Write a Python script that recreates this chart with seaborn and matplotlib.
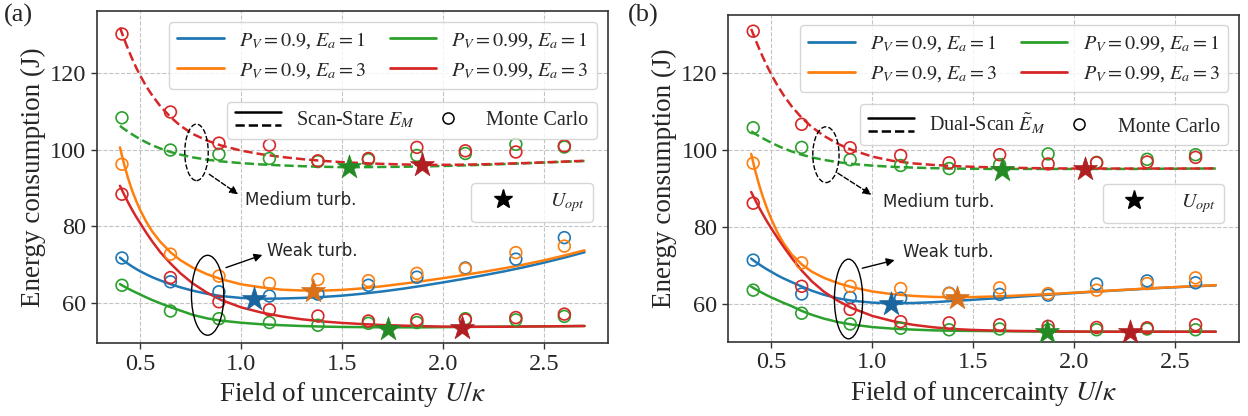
import matplotlib
matplotlib.use("Agg")
import matplotlib.pyplot as plt
import seaborn as sns
from matplotlib.lines import Line2D
from matplotlib.patches import Ellipse
from matplotlib.legend_handler import HandlerBase

# ---------------- data ----------------
curve_x = [0.40, 0.42, 0.44, 0.46, 0.48, 0.50, 0.53, 0.56, 0.60, 0.65, 0.70, 0.76, 0.83, 0.90,
           1.00, 1.10, 1.20, 1.30, 1.40, 1.50, 1.60, 1.70, 1.80, 1.90, 2.00, 2.10, 2.20,
           2.30, 2.40, 2.50, 2.60, 2.70]
mc_x = [0.41, 0.65, 0.89, 1.14, 1.38, 1.63, 1.87, 2.11, 2.36, 2.60]

# panel (a): Scan-Stare
a_blue_curve = [71.9, 71.05, 70.3, 69.6, 68.95, 68.35, 67.55, 66.8, 65.95, 65.0, 64.15, 63.3,
                62.5, 61.9, 61.4, 61.2, 61.25, 61.4, 61.65, 62.0, 62.5, 63.1, 63.8, 64.6,
                65.45, 66.35, 67.3, 68.3, 69.4, 70.6, 71.9, 73.3]
a_orange_curve = [100.6, 96.3, 92.6, 89.4, 86.7, 84.3, 81.25, 78.7, 76.0, 73.3, 71.2, 69.3,
                  67.6, 66.3, 64.95, 64.15, 63.55, 63.35, 63.3, 63.5, 63.9, 64.45, 65.1, 65.8,
                  66.55, 67.35, 68.2, 69.1, 70.1, 71.2, 72.45, 73.8]
a_green_curve = [65.0, 64.4, 63.85, 63.3, 62.8, 62.3, 61.55, 60.85, 60.0, 59.0, 58.1, 57.0,
                 56.1, 55.5, 54.95, 54.55, 54.3, 54.1, 53.95, 53.85, 53.8, 53.75, 53.75, 53.75,
                 53.8, 53.85, 53.9, 53.95, 54.0, 54.0, 54.05, 54.1]
a_red_curve = [90.6, 88.4, 86.3, 84.35, 82.55, 80.9, 78.4, 76.1, 73.3, 70.4, 67.8, 65.2,
               62.8, 60.9, 58.95, 57.6, 56.6, 55.85, 55.3, 54.9, 54.6, 54.35, 54.2, 54.05,
               53.95, 53.9, 53.9, 53.9, 53.95, 54.0, 54.05, 54.1]
a_green_dash = [106.2, 105.4, 104.7, 104.0, 103.35, 102.75, 101.9, 101.15, 100.3, 99.4, 98.7,
                98.0, 97.4, 96.95, 96.5, 96.15, 95.9, 95.7, 95.55, 95.45, 95.45, 95.5, 95.55,
                95.65, 95.75, 95.9, 96.05, 96.25, 96.45, 96.65, 96.85, 97.05]
a_red_dash = [131.8, 128.9, 126.2, 123.7, 121.4, 119.3, 116.5, 114.1, 111.3, 108.5, 106.2,
              104.1, 102.4, 101.1, 99.75, 98.8, 98.1, 97.55, 97.1, 96.75, 96.5, 96.3, 96.15,
              96.05, 96.05, 96.1, 96.2, 96.35, 96.5, 96.7, 96.9, 97.1]

a_blue_mc = [71.8, 65.6, 63.0, 61.9, 62.4, 64.7, 66.8, 69.2, 71.5, 77.1]
a_orange_mc = [96.2, 72.8, 67.1, 65.2, 66.2, 65.9, 67.8, 69.0, 73.2, 74.9]
a_green_mc = [64.7, 58.0, 56.0, 55.0, 54.3, 54.8, 55.0, 56.0, 55.7, 56.6]
a_red_mc = [88.4, 66.7, 60.4, 58.3, 56.7, 55.4, 55.7, 55.7, 56.3, 57.2]
a_green_dash_mc = [108.3, 99.9, 98.8, 97.7, 96.9, 97.4, 98.5, 99.0, 101.4, 100.7]
a_red_dash_mc = [130.1, 109.8, 101.7, 101.2, 97.1, 97.7, 100.6, 99.7, 99.4, 101.0]

a_star_x = [1.065, 1.358, 1.726, 2.095, 1.536, 1.897]
a_star_y = [61.1, 63.2, 53.4, 53.7, 95.4, 96.0]

# panel (b): Dual-Scan
b_blue_curve = [71.8, 71.0, 70.3, 69.6, 68.95, 68.35, 67.45, 66.65, 65.7, 64.55, 63.45, 62.4,
                61.45, 60.85, 60.35, 60.2, 60.25, 60.45, 60.8, 61.1, 61.45, 61.8, 62.15, 62.5,
                62.85, 63.2, 63.5, 63.8, 64.1, 64.35, 64.6, 64.85]
b_orange_curve = [99.0, 94.6, 90.8, 87.5, 84.6, 82.0, 78.6, 75.8, 72.9, 70.3, 68.4, 66.8,
                  65.4, 64.35, 63.25, 62.55, 62.1, 61.85, 61.75, 61.8, 61.95, 62.15, 62.4, 62.65,
                  62.95, 63.25, 63.55, 63.85, 64.15, 64.4, 64.65, 64.9]
b_green_curve = [64.5, 63.9, 63.3, 62.75, 62.2, 61.7, 61.0, 60.3, 59.45, 58.2, 57.2, 56.2,
                 55.3, 54.65, 54.0, 53.6, 53.35, 53.15, 53.05, 53.0, 52.95, 52.9, 52.85, 52.8,
                 52.8, 52.8, 52.8, 52.8, 52.8, 52.8, 52.8, 52.8]
b_red_curve = [89.1, 87.0, 85.0, 83.1, 81.3, 79.6, 77.2, 74.9, 72.0, 68.7, 65.9, 63.2,
               60.8, 58.9, 56.9, 55.55, 54.6, 53.95, 53.5, 53.25, 53.1, 53.0, 52.95, 52.9,
               52.85, 52.8, 52.8, 52.8, 52.8, 52.8, 52.8, 52.8]
b_green_dash = [104.9, 104.2, 103.6, 103.0, 102.45, 101.9, 101.15, 100.45, 99.65, 98.8, 98.1,
                97.45, 96.85, 96.4, 95.95, 95.65, 95.45, 95.3, 95.2, 95.15, 95.1, 95.1, 95.1,
                95.1, 95.1, 95.1, 95.1, 95.1, 95.15, 95.15, 95.2, 95.2]
b_red_dash = [131.5, 128.8, 126.3, 123.9, 121.7, 119.6, 116.8, 114.3, 111.4, 108.4, 106.0,
              103.7, 101.6, 100.0, 98.3, 97.2, 96.55, 96.15, 95.85, 95.65, 95.5, 95.4, 95.3,
              95.25, 95.2, 95.2, 95.2, 95.2, 95.2, 95.2, 95.2, 95.25]

b_blue_mc = [71.4, 62.6, 61.7, 61.5, 62.8, 62.5, 62.3, 65.2, 66.0, 65.5]
b_orange_mc = [96.6, 70.7, 64.6, 64.0, 62.7, 64.2, 62.7, 63.6, 65.3, 66.8]
b_green_mc = [63.6, 57.6, 54.8, 53.7, 53.3, 53.5, 53.3, 53.3, 53.5, 53.3]
b_red_mc = [86.2, 64.6, 58.6, 55.4, 55.1, 54.6, 54.2, 53.9, 53.8, 54.6]
b_green_dash_mc = [105.8, 100.7, 97.5, 96.0, 95.2, 96.2, 99.0, 96.8, 97.6, 98.8]
b_red_dash_mc = [130.9, 106.7, 100.6, 98.6, 96.7, 98.8, 96.4, 96.7, 96.9, 98.1]

b_star_x = [1.094, 1.42, 1.863, 2.275, 1.644, 2.055]
b_star_y = [60.1, 61.5, 52.6, 52.6, 94.9, 95.1]

series_labels = [r"$P_V=0.9$, $E_a=1$", r"$P_V=0.9$, $E_a=3$",
                 r"$P_V=0.99$, $E_a=1$", r"$P_V=0.99$, $E_a=3$"]
colors = ["#1f77b4", "#ff7f0e", "#2ca02c", "#d62728"]
star_colors = ["#1a659e", "#d9711a", "#248a24", "#b01e22", "#248a24", "#b01e22"]

# ---------------- style ----------------
sns.set_style("whitegrid", {"grid.linestyle": "--", "grid.color": "#c4c4c4",
                            "axes.edgecolor": "#333333", "xtick.bottom": True,
                            "ytick.left": True})
plt.rcParams["font.family"] = ["Liberation Serif", "DejaVu Serif"]
plt.rcParams["mathtext.fontset"] = "stix"
plt.rcParams["axes.linewidth"] = 1.2
plt.rcParams["grid.linewidth"] = 0.8


class SolidDashed:
    pass


class SolidDashedHandler(HandlerBase):
    def create_artists(self, legend, orig_handle, xdescent, ydescent,
                       width, height, fontsize, trans):
        x0, x1 = -xdescent, width - xdescent
        top = Line2D([x0, x1], [0.95 * height - ydescent] * 2, color="black",
                     lw=1.8, transform=trans)
        bot = Line2D([x0, x1], [0.05 * height - ydescent] * 2, color="black",
                     lw=1.8, ls="--", transform=trans)
        return [top, bot]


def draw_panel(ax, curves, mcs, star_x, star_y, method_label, ylim, ann):
    solid = curves[:4]
    dashed = curves[4:]
    for vals, c in zip(solid, colors):
        sns.lineplot(x=curve_x, y=vals, ax=ax, color=c, lw=1.8, legend=False)
    for vals, c in zip(dashed, [colors[2], colors[3]]):
        sns.lineplot(x=curve_x, y=vals, ax=ax, color=c, lw=1.8, ls="--", legend=False)
    mc_colors = colors + [colors[2], colors[3]]
    for vals, c in zip(mcs, mc_colors):
        sns.scatterplot(x=mc_x, y=vals, ax=ax, marker="o", s=72, facecolor="none",
                        edgecolor=c, linewidth=1.2, zorder=3, legend=False)
    for sx, sy, c in zip(star_x, star_y, star_colors):
        sns.scatterplot(x=[sx], y=[sy], ax=ax, marker="*", s=330, color=c,
                        edgecolor=c, linewidth=0.5, zorder=4, legend=False)

    ax.set_xlim(0.285, 2.815)
    ax.set_ylim(*ylim)
    ax.set_xticks([0.5, 1.0, 1.5, 2.0, 2.5])
    ax.set_yticks([60, 80, 100, 120])
    ax.tick_params(labelsize=17.5, length=4, width=1, color="#333333")
    ax.set_xlabel(r"Field of uncercainty $U/\kappa$", fontsize=19.5)
    ax.set_ylabel("Energy consumption (J)", fontsize=19.5, labelpad=3)

    # ellipses, arrows and notes
    (dcx, dcy, dw, dh), (d0, d1), dtxt, (scx, scy, sw, sh), (s0, s1), stxt = ann
    ax.add_patch(Ellipse((dcx, dcy), dw, dh, fill=False, ls="--", lw=1.0, ec="black", zorder=5))
    ax.add_patch(Ellipse((scx, scy), sw, sh, fill=False, lw=1.0, ec="black", zorder=5))
    ax.annotate("", xy=d1, xytext=d0,
                arrowprops=dict(arrowstyle="-|>", ls="--", lw=1.0, color="black",
                                mutation_scale=12, shrinkA=0, shrinkB=0))
    ax.annotate("", xy=s1, xytext=s0,
                arrowprops=dict(arrowstyle="-|>", lw=1.0, color="black",
                                mutation_scale=12, shrinkA=0, shrinkB=0))
    ax.text(dtxt[0], dtxt[1], "Medium turb.", family="DejaVu Sans", fontsize=12, va="center")
    ax.text(stxt[0], stxt[1], "Weak turb.", family="DejaVu Sans", fontsize=12, va="center")

    # legends
    h1 = [Line2D([], [], color=c, lw=2) for c in colors]
    leg1 = ax.legend(h1, series_labels, ncol=2, loc="upper right",
                     bbox_to_anchor=(0.978, 0.968), borderaxespad=0, fontsize=14.5,
                     handlelength=2.3, handletextpad=0.75, columnspacing=1.2)
    ax.add_artist(leg1)
    h2 = [SolidDashed(), Line2D([], [], marker="o", ls="none", mfc="none",
                                mec="black", ms=8, mew=1.1)]
    leg2 = ax.legend(h2, [method_label, "Monte Carlo"], ncol=2, loc="upper right",
                     bbox_to_anchor=(0.978, 0.727), borderaxespad=0, fontsize=14.5,
                     handlelength=2.3, handletextpad=0.75, columnspacing=0.5,
                     handler_map={SolidDashed: SolidDashedHandler()})
    ax.add_artist(leg2)
    h3 = [Line2D([], [], marker="*", ls="none", color="black", ms=14)]
    ax.legend(h3, [r"$U_{opt}$"], loc="upper right", bbox_to_anchor=(0.971, 0.483),
              borderaxespad=0, fontsize=14.5, handlelength=2.3, handletextpad=1.2)


fig = plt.figure(figsize=(12.48, 4.16), dpi=100)
ax_a = fig.add_axes([0.0775, 0.1748, 0.4095, 0.7988])
ax_b = fig.add_axes([0.5833, 0.1786, 0.4095, 0.7853])

draw_panel(ax_a,
           [a_blue_curve, a_orange_curve, a_green_curve, a_red_curve, a_green_dash, a_red_dash],
           [a_blue_mc, a_orange_mc, a_green_mc, a_red_mc, a_green_dash_mc, a_red_dash_mc],
           a_star_x, a_star_y, r"Scan-Stare $E_M$", (49.6, 136.1),
           ((0.779, 99.3, 0.116, 14.7), ((0.842, 93.6), (0.985, 88.4)), (1.02, 87.0),
            (0.834, 62.1, 0.16, 20.8), ((0.925, 69.3), (1.105, 72.6)), (1.13, 73.6)))
draw_panel(ax_b,
           [b_blue_curve, b_orange_curve, b_green_curve, b_red_curve, b_green_dash, b_red_dash],
           [b_blue_mc, b_orange_mc, b_green_mc, b_red_mc, b_green_dash_mc, b_red_dash_mc],
           b_star_x, b_star_y, r"Dual-Scan $\tilde{E}_M$", (50.2, 135.1),
           ((0.77, 98.8, 0.13, 14.5), ((0.829, 94.0), (0.995, 88.4)), (1.055, 86.5),
            (0.882, 61.3, 0.14, 20.7), ((0.95, 69.3), (1.11, 71.4)), (1.152, 73.4)))

fig.text(0.003, 0.99, "(a)", fontsize=19, va="top", ha="left")
fig.text(0.503, 0.99, "(b)", fontsize=19, va="top", ha="left")

fig.savefig("out.png", dpi=100)
